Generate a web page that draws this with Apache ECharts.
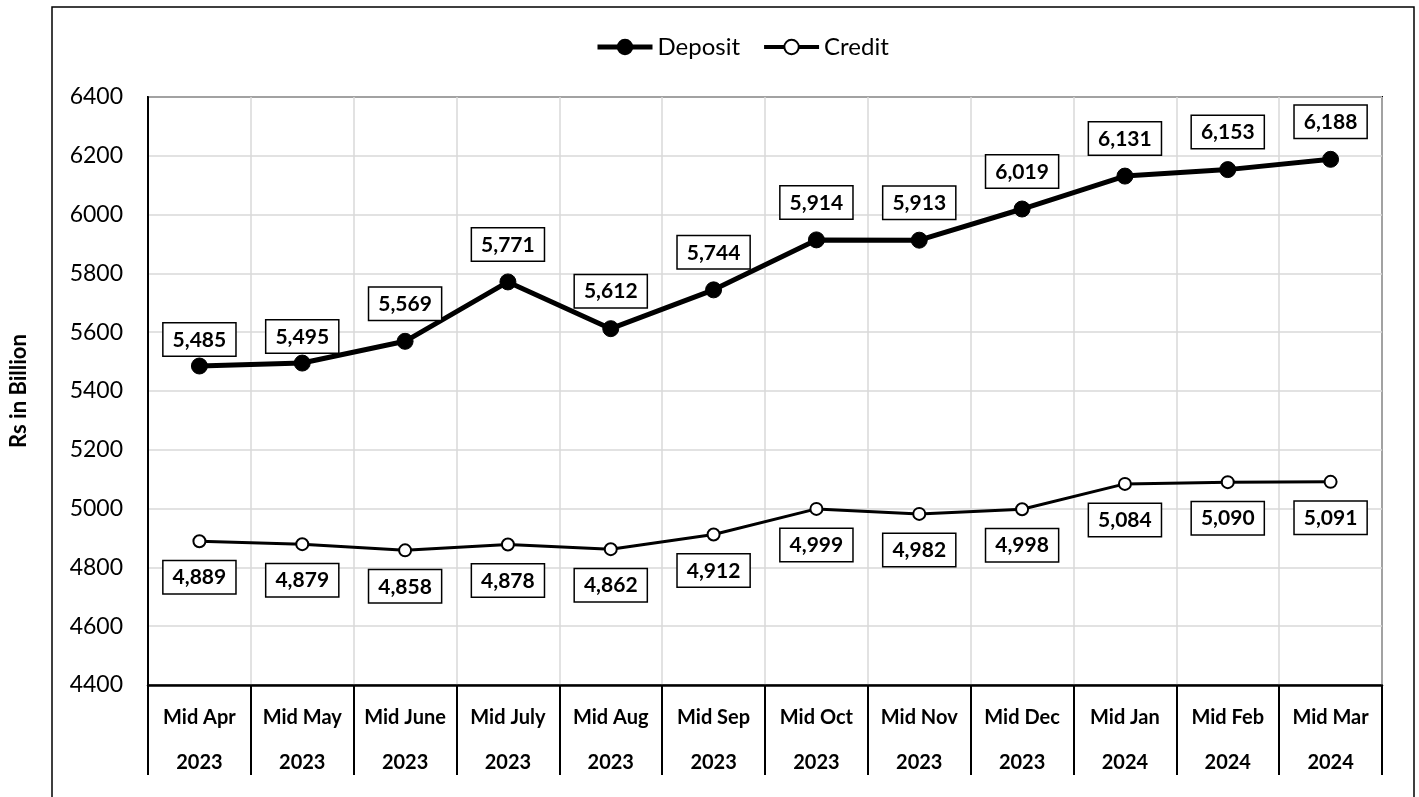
<!DOCTYPE html>
<html>
<head>
<meta charset="utf-8">
<script src="https://cdn.jsdelivr.net/npm/echarts@6/dist/echarts.min.js"></script>
<style>
  html, body { margin: 0; padding: 0; background: #fff; }
  #chart { width: 1419px; height: 797px; }
</style>
</head>
<body>
<div id="chart"></div>
<script>
var months = ['Mid Apr', 'Mid May', 'Mid June', 'Mid July', 'Mid Aug', 'Mid Sep',
  'Mid Oct', 'Mid Nov', 'Mid Dec', 'Mid Jan', 'Mid Feb', 'Mid Mar'];
var years = ['2023', '2023', '2023', '2023', '2023', '2023',
  '2023', '2023', '2023', '2024', '2024', '2024'];
var deposit = [5485, 5495, 5569, 5771, 5612, 5744, 5914, 5913, 6019, 6131, 6153, 6188];
var credit = [4889, 4879, 4858, 4878, 4862, 4912, 4999, 4982, 4998, 5084, 5090, 5091];

var FONT = 'Lato, "Liberation Sans", sans-serif';

var categories = [];
for (var i = 0; i < months.length; i++) {
  categories.push(months[i] + '\n' + years[i]);
}

function fmt(v) {
  return v.toLocaleString('en-US');
}

var boxLabel = {
  show: true,
  fontFamily: FONT,
  fontWeight: 'bold',
  fontSize: 21,
  color: '#000',
  backgroundColor: '#fff',
  borderColor: '#000',
  borderWidth: 1.5,
  padding: [6, 9, 5, 9],
  formatter: function (p) { return fmt(p.value); }
};

// first two deposit labels sit lower, close to the line
var depositData = deposit.map(function (v, idx) {
  if (idx < 2) return { value: v, label: { distance: 2 } };
  return v;
});

var chart = echarts.init(document.getElementById('chart'));
var option = {
  backgroundColor: '#fff',
  animation: false,
  textStyle: { fontFamily: FONT },
  legend: {
    top: 30,
    left: 590,
    itemWidth: 55,
    itemHeight: 18,
    itemGap: 22,
    textStyle: { fontFamily: FONT, fontSize: 24, color: '#000' },
    data: [
      { name: 'Deposit', lineStyle: { width: 5 } },
      { name: 'Credit', lineStyle: { width: 4 } }
    ]
  },
  grid: {
    left: 147, right: 37, top: 97, bottom: 112,
    show: true, borderColor: '#000', borderWidth: 2
  },
  graphic: [{
    type: 'rect',
    shape: { x: 52, y: 7, width: 1362, height: 800 },
    style: { fill: 'none', stroke: '#000', lineWidth: 1.5 },
    silent: true
  }],
  xAxis: {
    type: 'category',
    data: categories,
    boundaryGap: true,
    axisLine: { show: true, lineStyle: { color: '#000', width: 2.5 } },
    axisTick: { show: true, length: 90, lineStyle: { color: '#000', width: 2 } },
    splitLine: { show: true, lineStyle: { color: '#d9d9d9', width: 1.5 } },
    axisLabel: {
      fontFamily: FONT,
      fontWeight: 'bold',
      fontSize: 20,
      color: '#000',
      lineHeight: 45,
      margin: 10,
      interval: 0
    }
  },
  yAxis: {
    type: 'value',
    min: 4400,
    max: 6400,
    interval: 200,
    name: 'Rs in Billion',
    nameLocation: 'middle',
    nameGap: 118,
    nameTextStyle: { fontFamily: FONT, fontWeight: 'bold', fontSize: 22, color: '#000' },
    axisLine: { show: true, lineStyle: { color: '#000', width: 2 } },
    axisTick: { show: false },
    splitLine: { show: true, lineStyle: { color: '#d9d9d9', width: 1.5 } },
    axisLabel: {
      fontFamily: FONT, fontSize: 23, color: '#000', margin: 25,
      formatter: function (v) { return String(v); }
    }
  },
  series: [
    {
      name: 'Deposit',
      type: 'line',
      data: depositData,
      symbol: 'circle',
      symbolSize: 16,
      itemStyle: { color: '#000', borderColor: '#000', borderWidth: 1 },
      lineStyle: { color: '#000', width: 5 },
      label: Object.assign({}, boxLabel, { position: 'top', distance: 13 }),
      z: 3
    },
    {
      name: 'Credit',
      type: 'line',
      data: credit,
      symbol: 'circle',
      symbolSize: 12,
      itemStyle: { color: '#fff', borderColor: '#000', borderWidth: 2 },
      lineStyle: { color: '#000', width: 3 },
      label: Object.assign({}, boxLabel, { position: 'bottom', distance: 13 }),
      z: 2
    }
  ]
};
chart.setOption(option);
</script>
</body>
</html>
